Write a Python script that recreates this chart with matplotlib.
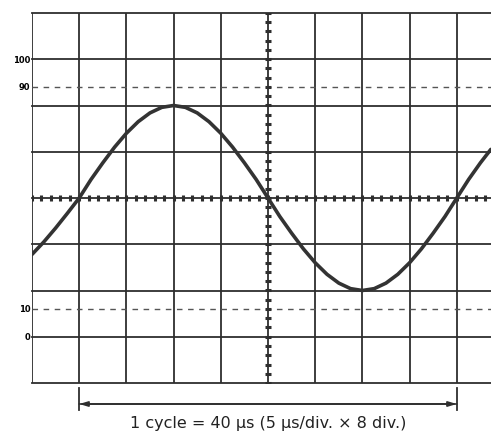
import matplotlib
matplotlib.use("Agg")
import matplotlib.pyplot as plt
import numpy as np

# Waveform (x and y in graticule divisions, y=0 at centre)
wave_x = [0.0, 0.25, 0.5, 0.75, 1.0, 1.25, 1.5, 1.75, 2.0, 2.25, 2.5, 2.75, 3.0,
          3.25, 3.5, 3.75, 4.0, 4.25, 4.5, 4.75, 5.0, 5.25, 5.5, 5.75, 6.0, 6.25,
          6.5, 6.75, 7.0, 7.25, 7.5, 7.75, 8.0, 8.25, 8.5, 8.75, 9.0, 9.25, 9.5, 9.72]
wave_y = [-1.22, -0.95, -0.65, -0.33, 0.0, 0.4, 0.76, 1.1, 1.4, 1.65, 1.84, 1.96, 2.0,
          1.96, 1.84, 1.65, 1.4, 1.1, 0.76, 0.4, 0.0, -0.4, -0.76, -1.1, -1.4, -1.65,
          -1.84, -1.96, -2.0, -1.96, -1.84, -1.65, -1.4, -1.1, -0.76, -0.4, 0.0, 0.4, 0.76, 1.05]

level_labels = ["100", "90", "10", "0"]
level_values = [3.0, 2.4, -2.4, -3.0]
dashed_levels = [2.4, -2.4]
caption = "1 cycle = 40 \u03bcs (5 \u03bcs/div. \u00d7 8 div.)"
cycle_start, cycle_end = 1.0, 9.0

W, H = 491, 432
fig = plt.figure(figsize=(W / 100, H / 100), dpi=100)
fig.patch.set_facecolor("white")
left, right, top, bottom = 32, 491, 13, 383
ax = fig.add_axes([left / W, 1 - bottom / H, (right - left) / W, (bottom - top) / H])
div_w = 47.2
div_h = (bottom - top) / 8
xmax = (right - left) / div_w
ax.set_xlim(0, xmax)
ax.set_ylim(-4, 4)
for s in ax.spines.values():
    s.set_visible(False)

gc = "#2e2e2e"
for i in range(0, 10):
    ax.axvline(i, color=gc, lw=1.3, zorder=1)
for j in range(-4, 5):
    ax.axhline(j, color=gc, lw=1.3, zorder=1, clip_on=False)
for lv in dashed_levels:
    ax.axhline(lv, color="#555555", lw=1.0, ls=(0, (4, 4)), zorder=1)

# centre-line graduations
hx = np.arange(0, xmax + 0.01, 0.2)
ax.plot(hx, np.zeros_like(hx), ls="none", marker="|", ms=5, mew=2.2, color=gc, zorder=2)
vy = np.arange(-4, 4.01, 0.2)
ax.plot(np.full_like(vy, 5), vy, ls="none", marker="_", ms=5, mew=2.2, color=gc, zorder=2)

ax.plot(wave_x, wave_y, color="#333333", lw=2.6, solid_capstyle="round",
        solid_joinstyle="round", zorder=3)

ax.set_xticks([])
ax.set_yticks(level_values)
ax.set_yticklabels(level_labels, fontsize=6, fontweight="bold", family="Liberation Sans Narrow")
ax.tick_params(axis="y", length=0, pad=1)

# cycle bracket
yb = -4 - 21 / div_h
for a, b in ((cycle_start, cycle_end), (cycle_end, cycle_start)):
    ax.annotate("", xy=(b, yb), xytext=(a, yb),
                arrowprops=dict(arrowstyle="-|>,head_length=0.5,head_width=0.15", color=gc, lw=1.2,
                                shrinkA=0, shrinkB=0), annotation_clip=False)
for xe in (cycle_start, cycle_end):
    ax.plot([xe, xe], [-4 - 5 / div_h, -4 - 27 / div_h], color=gc, lw=1.3, clip_on=False)
ax.text((cycle_start + cycle_end) / 2, -4 - 45 / div_h, caption, ha="center", va="baseline",
        fontsize=11.5, family="DejaVu Sans", color="#222222")

fig.savefig("out.png", dpi=100, facecolor="white")
